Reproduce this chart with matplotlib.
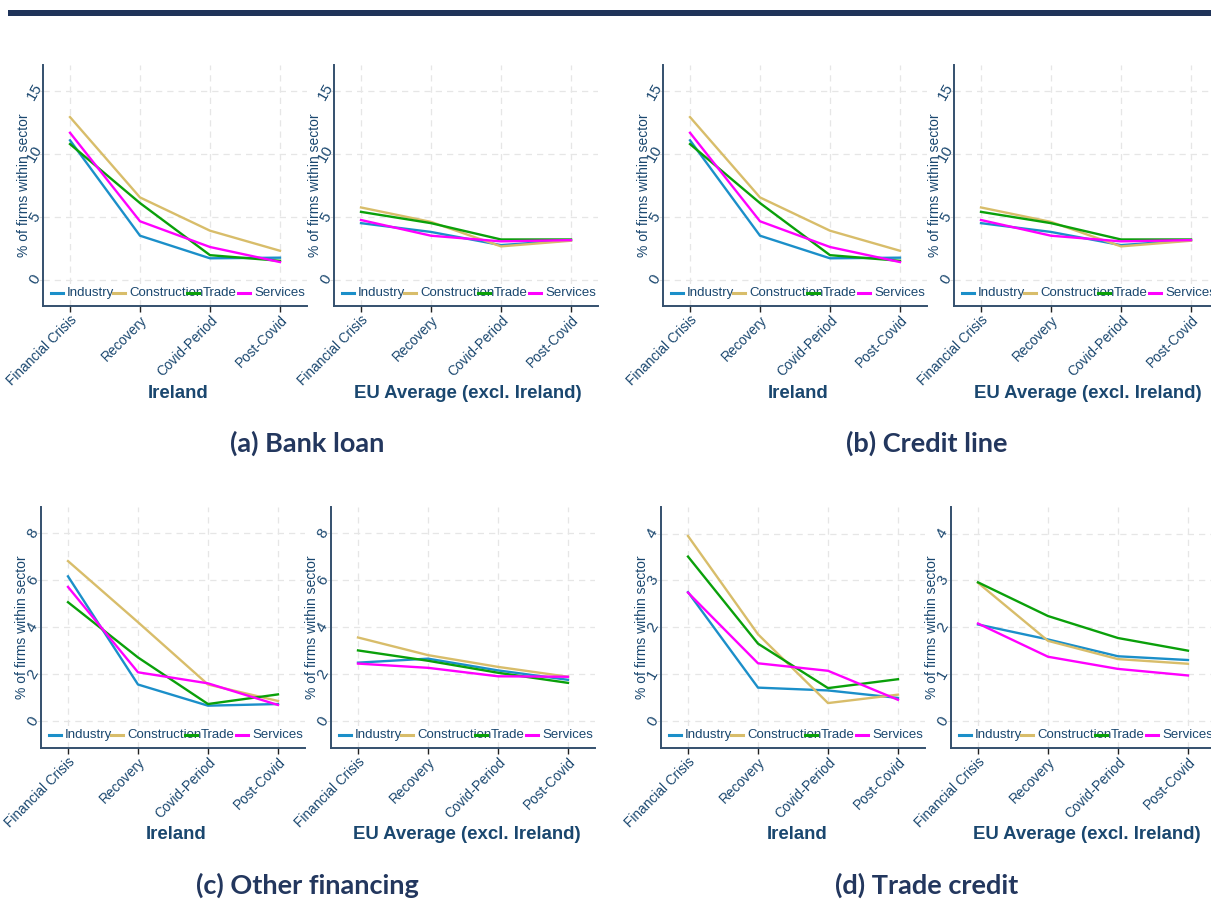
import matplotlib.pyplot as plt
import matplotlib.patches as patches

plt.rcParams['font.family'] = ['Liberation Sans', 'DejaVu Sans']

periods = ['Financial Crisis', 'Recovery', 'Covid-Period', 'Post-Covid']
sectors = ['Industry', 'Construction', 'Trade', 'Services']
colors = ['#1b8fc9', '#d8bd6a', '#0aa00a', '#ff00ff']

# (a) bank loan
bank_ie = [[11.1, 3.5, 1.7, 1.75],
           [12.95, 6.55, 3.9, 2.3],
           [10.8, 6.1, 1.95, 1.5],
           [11.7, 4.65, 2.6, 1.4]]
bank_eu = [[4.5, 3.8, 2.75, 3.15],
           [5.75, 4.6, 2.65, 3.1],
           [5.4, 4.5, 3.2, 3.2],
           [4.75, 3.5, 3.05, 3.15]]
# (b) credit line
credit_ie = [[11.1, 3.5, 1.7, 1.75],
             [12.95, 6.55, 3.9, 2.3],
             [10.8, 6.1, 1.95, 1.5],
             [11.7, 4.65, 2.6, 1.4]]
credit_eu = [[4.5, 3.8, 2.75, 3.15],
             [5.75, 4.6, 2.65, 3.1],
             [5.4, 4.5, 3.2, 3.2],
             [4.75, 3.5, 3.05, 3.15]]
# (c) other financing
other_ie = [[6.15, 1.55, 0.65, 0.72],
            [6.8, 4.2, 1.55, 0.85],
            [5.05, 2.7, 0.72, 1.13],
            [5.7, 2.07, 1.6, 0.68]]
other_eu = [[2.48, 2.65, 2.15, 1.75],
            [3.55, 2.8, 2.3, 1.88],
            [3.0, 2.56, 2.05, 1.62],
            [2.44, 2.26, 1.9, 1.88]]
# (d) trade credit
tradecr_ie = [[2.75, 0.71, 0.65, 0.49],
              [3.95, 1.85, 0.38, 0.56],
              [3.51, 1.65, 0.7, 0.89],
              [2.74, 1.23, 1.07, 0.45]]
tradecr_eu = [[2.06, 1.74, 1.38, 1.3],
              [2.95, 1.71, 1.32, 1.22],
              [2.96, 2.24, 1.77, 1.5],
              [2.08, 1.37, 1.11, 0.97]]

captions = ['(a) Bank loan', '(b) Credit line', '(c) Other financing', '(d) Trade credit']

txt = '#1a476f'
navy = '#23375e'
W, H = 1211, 921
AW, AH = 264, 241
key_x = [8, 70, 144, 195]   # legend key starts, px from the left spine

fig = plt.figure(figsize=(W / 100, H / 100), dpi=100)
fig.add_artist(patches.Rectangle((8 / W, 1 - 16 / H), 1, 6 / H,
                                 transform=fig.transFigure, color='#1f3359', lw=0))


def panel(left, top, data, ylim, yticks):
    ax = fig.add_axes([left / W, 1 - (top + AH) / H, AW / W, AH / H])
    x = range(len(periods))
    for vals, c in zip(data, colors):
        ax.plot(x, vals, color=c, lw=1.7)
    ax.set_xlim(-0.386, 3.386)
    ax.set_ylim(*ylim)
    ax.set_xticks(list(x))
    ax.set_xticklabels(periods, rotation=45, ha='right', rotation_mode='anchor')
    ax.set_yticks(yticks)
    ax.set_yticklabels([str(t) for t in yticks], rotation=60, ha='center', va='center')
    ax.tick_params(axis='x', length=4, width=1, color='#222222', labelsize=9.8,
                   labelcolor=txt, pad=1)
    ax.tick_params(axis='y', length=3, width=0.8, color='#dddddd', labelsize=11,
                   labelcolor=txt, pad=3)
    ax.grid(True, color='#e6e6e6', ls=(0, (5, 4)), lw=0.9)
    for s in ['top', 'right']:
        ax.spines[s].set_visible(False)
    for s in ['left', 'bottom']:
        ax.spines[s].set_color('#34506e')
        ax.spines[s].set_linewidth(1.4)
    ax.set_ylabel('% of firms within sector', color=txt, fontsize=10)
    ax.yaxis.set_label_coords(-0.045, 0.5)
    # Stata-style legend: keys packed at fixed spots inside the plot
    ly = 13 / AH
    for kx, c, name in zip(key_x, colors, sectors):
        ax.plot([kx / AW, (kx + 12) / AW], [ly, ly], color=c, lw=2.2,
                transform=ax.transAxes, clip_on=False, zorder=5)
        ax.text((kx + 16) / AW, ly, name, transform=ax.transAxes, color=txt,
                fontsize=9.5, va='center', ha='left')
    return ax


# top row
panel(43, 65, bank_ie, (-2.1, 17.1), [0, 5, 10, 15])
panel(334, 65, bank_eu, (-2.1, 17.1), [0, 5, 10, 15])
panel(663, 65, credit_ie, (-2.1, 17.1), [0, 5, 10, 15])
panel(954, 65, credit_eu, (-2.1, 17.1), [0, 5, 10, 15])
# bottom row
panel(41, 507, other_ie, (-1.15, 9.1), [0, 2, 4, 6, 8])
panel(331, 507, other_eu, (-1.15, 9.1), [0, 2, 4, 6, 8])
panel(661, 507, tradecr_ie, (-0.58, 4.57), [0, 1, 2, 3, 4])
panel(951, 507, tradecr_eu, (-0.58, 4.57), [0, 1, 2, 3, 4])

for xc, yc, s in [(178, 393, 'Ireland'), (468, 393, 'EU Average (excl. Ireland)'),
                  (798, 393, 'Ireland'), (1088, 393, 'EU Average (excl. Ireland)'),
                  (176, 834, 'Ireland'), (467, 834, 'EU Average (excl. Ireland)'),
                  (797, 834, 'Ireland'), (1087, 834, 'EU Average (excl. Ireland)')]:
    fig.text(xc / W, 1 - yc / H, s, ha='center', va='center', fontsize=13.4,
             fontweight='bold', color=txt)

for (xc, yc), cap in zip([(307, 443), (927, 443), (307, 885), (927, 885)], captions):
    fig.text(xc / W, 1 - yc / H, cap, ha='center', va='center', fontsize=19.5,
             fontweight='bold', color=navy, family=['Lato', 'DejaVu Sans'])

fig.savefig('out.png', dpi=100)
